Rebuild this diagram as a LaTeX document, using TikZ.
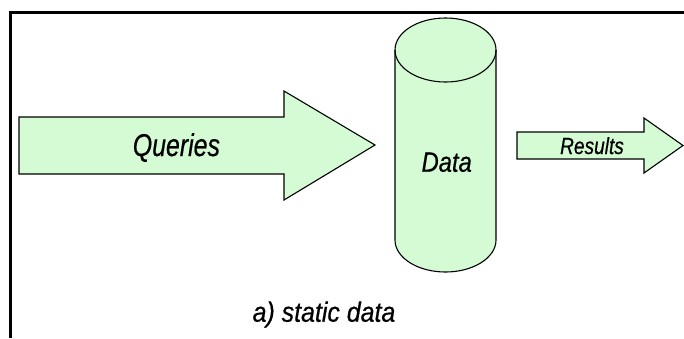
\documentclass[tikz,border=0pt]{standalone}
\usepackage{fontspec}
\usepackage{graphicx}
\newfontfamily\labelfont{Liberation Sans}[ItalicFeatures={FakeBold=0.6}]
\definecolor{lgreen}{RGB}{212,251,212}
% narrow italic label text: size and horizontal squeeze
\newcommand{\narrowlabel}[3]{{\labelfont\itshape\fontsize{#1}{#1}\selectfont\scalebox{#2}[1]{#3}}}
\begin{document}
\begin{tikzpicture}[x=1pt,y=-1pt,
  solid shape/.style={fill=lgreen, draw=black, line width=1.1pt, line join=miter},
  lbl/.style={inner sep=0pt, anchor=base}]
\useasboundingbox (0,0) rectangle (684,338);
% frame lines along the top and the left
\draw[line width=3pt] (10,338) -- (10,12) -- (684,12);
% query arrow
\path[solid shape] (19,117) -- (284,117) -- (284,91) -- (375,145) -- (284,200)
  -- (284,174) -- (19,174) -- cycle;
% data store cylinder
\path[solid shape] (395,50) -- (395,240)
  arc[start angle=180, end angle=360, x radius=50.5pt, y radius=32pt]
  -- (496,50)
  arc[start angle=0, end angle=180, x radius=50.5pt, y radius=32pt] -- cycle;
\draw[line width=1.1pt] (395,50)
  arc[start angle=180, end angle=360, x radius=50.5pt, y radius=32pt];
% result arrow
\path[solid shape] (517,132) -- (644,132) -- (644,118) -- (683,145.5) -- (644,173)
  -- (644,159) -- (517,159) -- cycle;
% labels
\node[lbl] (queries) at (176.4,156) {\narrowlabel{31.5}{0.79}{Queries}};
\node[lbl] (data) at (446.7,171.7) {\narrowlabel{28}{0.85}{Data}};
\node[lbl] (results) at (592,154) {\narrowlabel{23.3}{0.82}{Results}};
\node[lbl] (caption) at (324,321.7) {\narrowlabel{28}{0.89}{a) static data}};
\end{tikzpicture}
\end{document}
